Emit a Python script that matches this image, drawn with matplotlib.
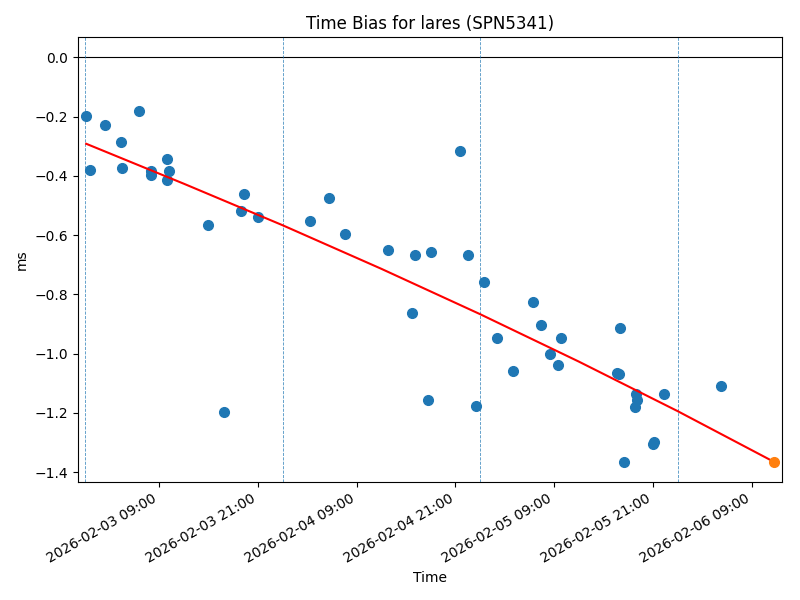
import numpy as np
import pandas as pd
import matplotlib
matplotlib.use("Agg")
import matplotlib.pyplot as plt
import matplotlib.dates as mdates

# ========== 数据 ==========
obs_times = [
    "2026-02-03 00:07", "2026-02-03 00:37", "2026-02-03 02:26", "2026-02-03 04:23",
    "2026-02-03 04:25", "2026-02-03 06:32", "2026-02-03 08:02", "2026-02-03 08:03",
    "2026-02-03 09:57", "2026-02-03 10:10", "2026-02-03 09:58", "2026-02-03 14:52",
    "2026-02-03 16:49", "2026-02-03 18:58", "2026-02-03 19:16", "2026-02-03 21:02",
    "2026-02-04 03:17", "2026-02-04 05:36", "2026-02-04 07:33", "2026-02-04 12:47",
    "2026-02-04 15:41", "2026-02-04 16:05", "2026-02-04 17:43", "2026-02-04 18:00",
    "2026-02-04 21:32", "2026-02-04 22:30", "2026-02-04 23:31", "2026-02-05 00:29",
    "2026-02-05 02:04", "2026-02-05 03:59", "2026-02-05 06:25", "2026-02-05 07:24",
    "2026-02-05 08:29", "2026-02-05 09:30", "2026-02-05 09:50", "2026-02-05 16:36",
    "2026-02-05 16:54", "2026-02-05 17:01", "2026-02-05 17:33", "2026-02-05 18:58",
    "2026-02-05 19:04", "2026-02-05 18:51", "2026-02-05 21:05", "2026-02-05 20:58",
    "2026-02-05 22:23", "2026-02-06 05:19",
]
bias_ms = [
    -0.197, -0.379, -0.229, -0.285, -0.375, -0.183, -0.384, -0.399,
    -0.342, -0.385, -0.414, -0.565, -1.196, -0.519, -0.463, -0.538,
    -0.552, -0.475, -0.597, -0.650, -0.863, -0.668, -1.156, -0.658,
    -0.315, -0.668, -1.176, -0.759, -0.949, -1.058, -0.827, -0.902,
    -1.003, -1.037, -0.949, -1.066, -1.070, -0.912, -1.365, -1.138,
    -1.158, -1.179, -1.297, -1.305, -1.136, -1.108,
]

# 拟合曲线（从图上读出的点）+ 预测点
fit_times = ["2026-02-03 00:07", "2026-02-03 12:00", "2026-02-04 00:00",
             "2026-02-04 12:00", "2026-02-05 00:00", "2026-02-05 12:00",
             "2026-02-06 00:00", "2026-02-06 11:42"]
fit_ms = [-0.292, -0.427, -0.567, -0.714, -0.867, -1.027, -1.194, -1.365]
pred_time = "2026-02-06 11:42"
pred_ms = -1.365

# 每天零点的分隔线
day_marks = ["2026-02-03", "2026-02-04", "2026-02-05", "2026-02-06"]

t = pd.to_datetime(obs_times)
t_fit = pd.to_datetime(fit_times)
t_pred = pd.Timestamp(pred_time)

# ========== 绘图 ==========
fig, ax = plt.subplots(figsize=(8, 6), dpi=100)

ax.axhline(0, color='black', linewidth=0.8)
for d in day_marks:
    ax.axvline(pd.Timestamp(d), color='C0', linestyle='--', linewidth=0.6, alpha=0.8)

ax.plot(t, bias_ms, 'o', color='C0', markersize=7)
ax.plot(t_fit, fit_ms, color='red', linewidth=1.5)
ax.plot([t_pred], [pred_ms], 'o', color='C1', markersize=7)

ax.set_xlim(t[0] - pd.Timedelta(hours=1), t_pred + pd.Timedelta(hours=1))
ax.xaxis.set_major_locator(mdates.HourLocator(byhour=[9, 21]))
ax.xaxis.set_major_formatter(mdates.DateFormatter('%Y-%m-%d %H:%M'))

ax.set_title('Time Bias for lares (SPN5341)')
ax.set_xlabel('Time')
ax.set_ylabel('ms')

fig.autofmt_xdate()
fig.subplots_adjust(left=0.0975, right=0.9775, top=0.9383, bottom=0.1967)
plt.savefig('out.png', dpi=100)
